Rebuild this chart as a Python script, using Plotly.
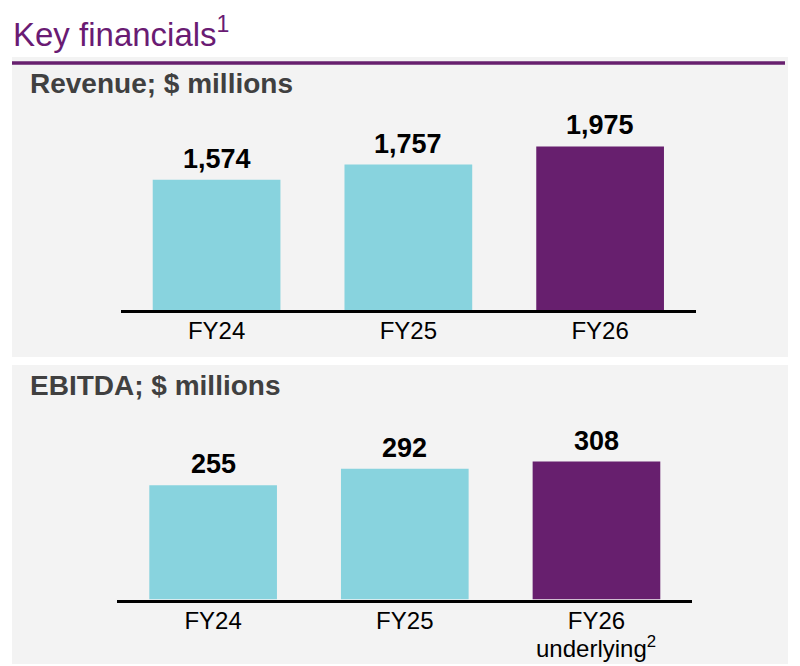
import plotly.graph_objects as go

# data
years = ["FY24", "FY25", "FY26"]
revenue = [1574, 1757, 1975]
ebitda = [255, 292, 308]
fy26_note = "underlying<sup>2</sup>"

teal = "#88D3DE"
purple = "#671F6E"
bar_colors = [teal, teal, purple]
FONT = "Liberation Sans, Arial, sans-serif"

W, H = 800, 666

def px_x(p):
    return p / W

def px_y(p):
    # pixel from top -> paper fraction
    return (H - p) / H

fig = go.Figure()

fig.add_trace(go.Bar(
    x=years, y=revenue, marker=dict(color=bar_colors, line=dict(width=0)),
    width=0.666, xaxis="x", yaxis="y", showlegend=False, hoverinfo="skip",
))
fig.add_trace(go.Bar(
    x=years, y=ebitda, marker=dict(color=bar_colors, line=dict(width=0)),
    width=0.666, xaxis="x2", yaxis="y2", showlegend=False, hoverinfo="skip",
))

# value labels above the bars
for xa, ya, vals in [("x", "y", revenue), ("x2", "y2", ebitda)]:
    for yr, v in zip(years, vals):
        fig.add_annotation(text="<b>{:,}</b>".format(v), x=yr, y=v, xref=xa, yref=ya,
                           xanchor="center", yanchor="bottom", yshift=4,
                           showarrow=False,
                           font=dict(size=27, color="black", family=FONT))

axis_common = dict(showgrid=False, zeroline=False, fixedrange=True)

fig.update_layout(
    width=W, height=H,
    margin=dict(l=0, r=0, t=0, b=0),
    paper_bgcolor="white", plot_bgcolor="rgba(0,0,0,0)",
    font=dict(family=FONT, color="black"),
    xaxis=dict(domain=[px_x(120.7), px_x(696)], anchor="y", range=[-0.5, 2.5],
               showline=True, linecolor="black", linewidth=3, ticks="",
               ticklabelstandoff=-3,
               tickfont=dict(size=24, color="black"), **axis_common),
    yaxis=dict(domain=[px_y(310), px_y(110)], anchor="x", range=[0, 200 / 0.0828],
               visible=False, **axis_common),
    xaxis2=dict(domain=[px_x(117.3), px_x(692.3)], anchor="y2", range=[-0.5, 2.5],
                showline=True, linecolor="black", linewidth=3, ticks="",
                ticklabelstandoff=-2,
                tickfont=dict(size=24, color="black"), **axis_common),
    yaxis2=dict(domain=[px_y(599.5), px_y(399.5)], anchor="x2", range=[0, 200 / 0.448],
                visible=False, **axis_common),
)

# second line of the FY26 EBITDA label
fig.add_annotation(text=fy26_note, x=years[2], xref="x2", y=px_y(647), yref="paper",
                   xanchor="center", yanchor="middle", showarrow=False,
                   font=dict(size=24, color="black", family=FONT))

# grey panels
fig.add_shape(type="rect", xref="paper", yref="paper",
              x0=px_x(12), x1=px_x(788), y0=px_y(357), y1=px_y(57),
              fillcolor="#F3F3F3", line=dict(width=0), layer="below")
fig.add_shape(type="rect", xref="paper", yref="paper",
              x0=px_x(12), x1=px_x(788), y0=px_y(664), y1=px_y(365),
              fillcolor="#F3F3F3", line=dict(width=0), layer="below")
# purple rule under the title
fig.add_shape(type="line", xref="paper", yref="paper",
              x0=px_x(12), x1=px_x(785), y0=px_y(63), y1=px_y(63),
              line=dict(color=purple, width=3.5))

fig.add_annotation(text="Key financials<sup>1</sup>", xref="paper", yref="paper",
                   x=px_x(11), y=px_y(32), xanchor="left", yanchor="middle",
                   showarrow=False, font=dict(size=33, color="#6A1B73", family=FONT))
fig.add_annotation(text="<b>Revenue; $ millions</b>", xref="paper", yref="paper",
                   x=px_x(28), y=px_y(83), xanchor="left", yanchor="middle",
                   showarrow=False, font=dict(size=28, color="#404040", family=FONT))
fig.add_annotation(text="<b>EBITDA; $ millions</b>", xref="paper", yref="paper",
                   x=px_x(28), y=px_y(385), xanchor="left", yanchor="middle",
                   showarrow=False, font=dict(size=28, color="#404040", family=FONT))

# page has a default body margin; drop it so the figure fills the window
fig.write_html("out.html", config={"displayModeBar": False},
               post_script="document.body.style.margin='0';")
